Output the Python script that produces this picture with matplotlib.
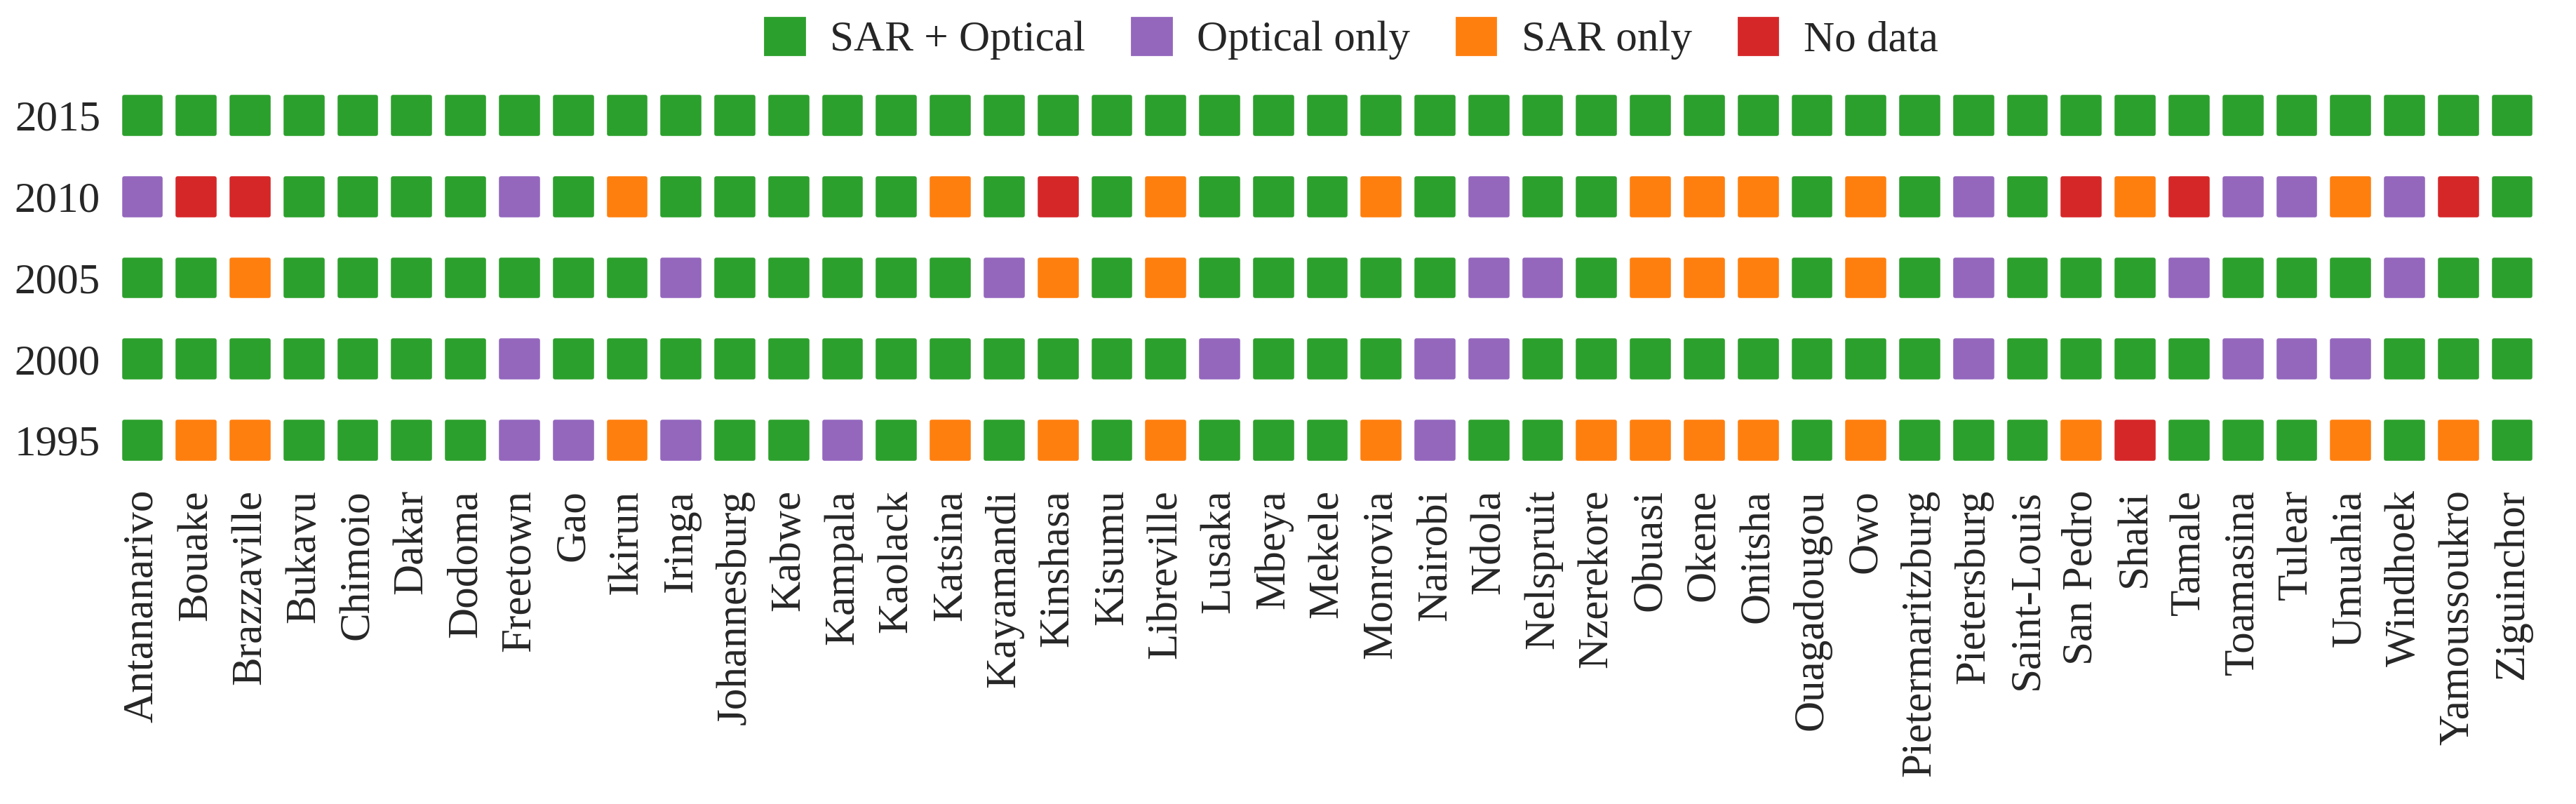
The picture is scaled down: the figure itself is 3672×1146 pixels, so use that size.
import matplotlib
matplotlib.use("Agg")
import matplotlib.pyplot as plt
from matplotlib.patches import Patch

cities = ["Antananarivo", "Bouake", "Brazzaville", "Bukavu", "Chimoio", "Dakar", "Dodoma",
          "Freetown", "Gao", "Ikirun", "Iringa", "Johannesburg", "Kabwe", "Kampala", "Kaolack",
          "Katsina", "Kayamandi", "Kinshasa", "Kisumu", "Libreville", "Lusaka", "Mbeya", "Mekele",
          "Monrovia", "Nairobi", "Ndola", "Nelspruit", "Nzerekore", "Obuasi", "Okene", "Onitsha",
          "Ouagadougou", "Owo", "Pietermaritzburg", "Pietersburg", "Saint-Louis", "San Pedro",
          "Shaki", "Tamale", "Toamasina", "Tulear", "Umuahia", "Windhoek", "Yamoussoukro",
          "Ziguinchor"]

years = ["1995", "2000", "2005", "2010", "2015"]

# B = SAR + Optical, O = Optical only, S = SAR only, N = No data
status_1995 = ("B S S B B B B O O S O B B O B S B S B S B B B "
               "S O B B S S S S B S B B B S N B B B S B S B").split()
status_2000 = ("B B B B B B B O B B B B B B B B B B B B O B B "
               "B O O B B B B B B B B O B B B B O O O B B B").split()
status_2005 = ("B B S B B B B B B B O B B B B B O S B S B B B "
               "B B O O B S S S B S B O B B B O B B B O B B").split()
status_2010 = ("O N N B B B B O B S B B B B B S B N B S B B B "
               "S B O B B S S S B S B O B N S N O O S O N B").split()
status_2015 = ("B B B B B B B B B B B B B B B B B B B B B B B "
               "B B B B B B B B B B B B B B B B B B B B B B").split()

status_by_year = [status_1995, status_2000, status_2005, status_2010, status_2015]

categories = ["SAR + Optical", "Optical only", "SAR only", "No data"]
codes = ["B", "O", "S", "N"]
colors = {"B": "#2ca02c", "O": "#9467bd", "S": "#ff7f0e", "N": "#d62728"}

plt.rcParams["font.family"] = ["Liberation Serif", "DejaVu Serif"]
text_color = "#262626"

fig = plt.figure(figsize=(36.72, 11.46), dpi=100)
ax = fig.add_axes([0.04483, 0.40192, 0.98568 - 0.04483, 0.90698 - 0.40192])

for yi, statuses in enumerate(status_by_year):
    xs = list(range(len(cities)))
    ys = [yi] * len(cities)
    cs = [colors[s] for s in statuses]
    ax.scatter(xs, ys, s=38 ** 2, marker="s", c=cs, edgecolors=cs,
               linewidths=4, zorder=3)
for coll in ax.collections:
    coll.set_joinstyle("round")

ax.set_xlim(-0.5, len(cities) - 0.5)
ax.set_ylim(-0.5, len(years) - 0.5)
ax.set_xticks(range(len(cities)))
ax.set_xticklabels(cities, rotation=90, fontsize=44, color=text_color)
ax.set_yticks(range(len(years)))
ax.set_yticklabels(years, fontsize=44, color=text_color)
ax.tick_params(axis="x", length=0, pad=9)
ax.tick_params(axis="y", length=0, pad=15.5)
for sp in ax.spines.values():
    sp.set_visible(False)
ax.set_facecolor("white")

handles = [Patch(facecolor=colors[c], edgecolor=colors[c], linewidth=2, joinstyle="round",
                 label=lab) for c, lab in zip(codes, categories)]
fig.legend(handles=handles, loc="center", bbox_to_anchor=(0.5247, 0.952), ncol=4,
           frameon=False, fontsize=44, handlelength=0.92, handleheight=0.98,
           handletextpad=0.6, columnspacing=1.08, labelcolor=text_color,
           borderaxespad=0)

fig.savefig("out.png", dpi=100, facecolor="white")
